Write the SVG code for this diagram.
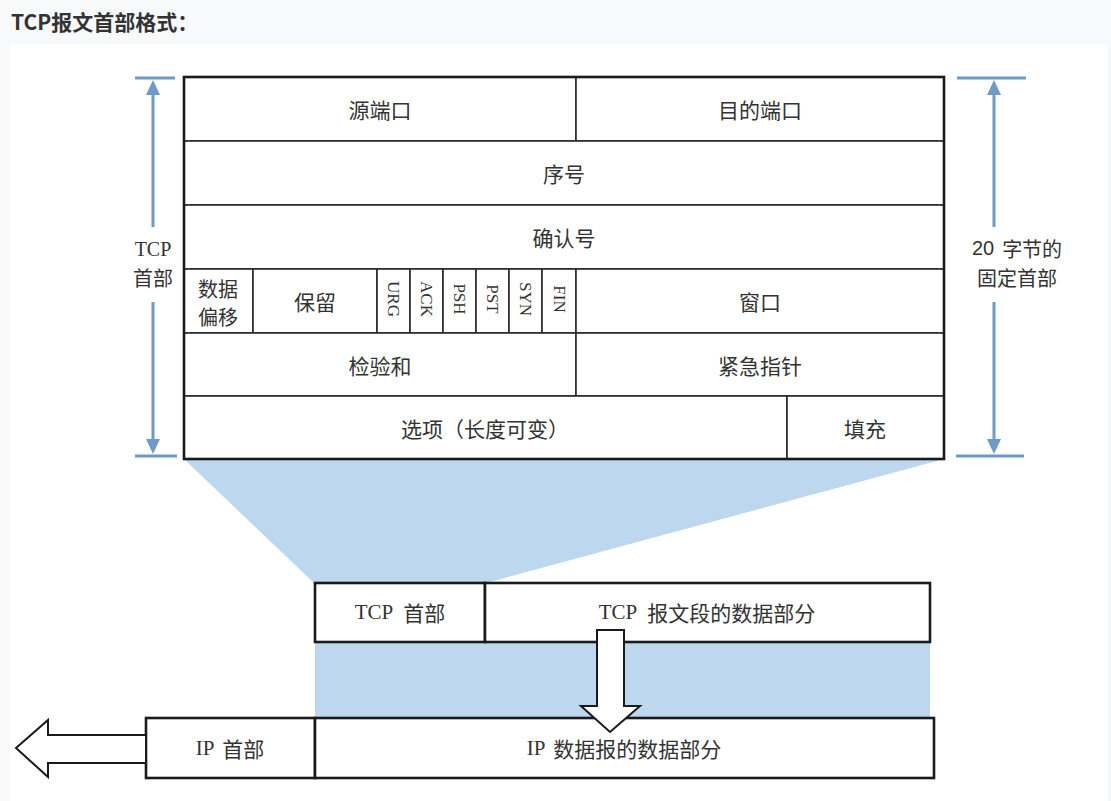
<svg xmlns="http://www.w3.org/2000/svg" width="1111" height="801" viewBox="0 0 1111 801">
<style>
.cell{fill:#fff;stroke:#2a2a2a;stroke-width:1.6}
.outer{fill:none;stroke:#1a1a1a;stroke-width:2.6}
.t{font-family:"Noto Sans CJK SC","Noto Sans",sans-serif;font-size:21px;fill:#333;text-anchor:middle;dominant-baseline:central}
.t2{font-family:"Noto Sans CJK SC","Noto Sans",sans-serif;font-size:20px;fill:#333;text-anchor:middle;dominant-baseline:central}
.s{font-family:"Liberation Serif","Noto Sans CJK SC",serif;font-size:20px;fill:#333;text-anchor:middle;dominant-baseline:central}
.f{font-family:"Liberation Serif",serif;font-size:17px;fill:#333;text-anchor:middle;dominant-baseline:central}
.dim{stroke:#6f9ac6;stroke-width:3;fill:none}
.head{fill:#6f9ac6}
.blk{fill:#fff;stroke:#1a1a1a;stroke-width:2}
.box{fill:#fff;stroke:#1a1a1a;stroke-width:2.6}
</style>
<rect width="1111" height="801" fill="#f8f9fb"/>
<rect x="10" y="44" width="1097" height="757" fill="#fff"/>
<text x="11" y="30" font-family="'Noto Sans CJK SC','Liberation Sans',sans-serif" font-size="21" font-weight="bold" fill="#333">TCP报文首部格式：</text>

<!-- projection shading -->
<g id="shading">
<polygon points="184,459 944,459 486,583 314,583" fill="#bdd7ee"/>
<rect x="315" y="642" width="615" height="76" fill="#bdd7ee"/>
</g>

<!-- TCP header table -->
<g id="header-table">
<g id="row1">
<rect class="cell" x="184" y="77" width="392" height="64"/>
<text class="t" x="380" y="109">源端口</text>
<rect class="cell" x="576" y="77" width="368" height="64"/>
<text class="t" x="760" y="109">目的端口</text>
</g>
<g id="row2">
<rect class="cell" x="184" y="141" width="760" height="64"/>
<text class="t" x="564" y="173">序号</text>
</g>
<g id="row3">
<rect class="cell" x="184" y="205" width="760" height="64"/>
<text class="t" x="564" y="237">确认号</text>
</g>
<g id="row4">
<rect class="cell" x="184" y="269" width="69" height="64"/>
<text class="t2" x="218" y="288">数据</text>
<text class="t2" x="218" y="316">偏移</text>
<rect class="cell" x="253" y="269" width="124" height="64"/>
<text class="t" x="315" y="301">保留</text>
<rect class="cell" x="377" y="269" width="33" height="64"/>
<text class="f" transform="translate(393.5,299) rotate(90)">URG</text>
<rect class="cell" x="410" y="269" width="33" height="64"/>
<text class="f" transform="translate(426.5,299) rotate(90)">ACK</text>
<rect class="cell" x="443" y="269" width="33" height="64"/>
<text class="f" transform="translate(459.5,299) rotate(90)">PSH</text>
<rect class="cell" x="476" y="269" width="33" height="64"/>
<text class="f" transform="translate(492.5,299) rotate(90)">PST</text>
<rect class="cell" x="509" y="269" width="33" height="64"/>
<text class="f" transform="translate(525.5,299) rotate(90)">SYN</text>
<rect class="cell" x="542" y="269" width="34" height="64"/>
<text class="f" transform="translate(559,299) rotate(90)">FIN</text>
<rect class="cell" x="576" y="269" width="368" height="64"/>
<text class="t" x="760" y="301">窗口</text>
</g>
<g id="row5">
<rect class="cell" x="184" y="333" width="392" height="63"/>
<text class="t" x="380" y="365">检验和</text>
<rect class="cell" x="576" y="333" width="368" height="63"/>
<text class="t" x="760" y="365">紧急指针</text>
</g>
<g id="row6">
<rect class="cell" x="184" y="396" width="603" height="63"/>
<text class="t" x="485" y="428">选项（长度可变）</text>
<rect class="cell" x="787" y="396" width="157" height="63"/>
<text class="t" x="865" y="428">填充</text>
</g>
<rect class="outer" x="184" y="77" width="760" height="382"/>
</g>

<!-- dimension markers -->
<g id="connectors">
<g id="dim-left">
<line class="dim" x1="135" y1="78" x2="175" y2="78"/>
<polygon class="head" points="153,80 146,95 160,95"/>
<line class="dim" x1="153" y1="92" x2="153" y2="227"/>
<line class="dim" x1="153" y1="302" x2="153" y2="442"/>
<polygon class="head" points="153,454 146,439 160,439"/>
<line class="dim" x1="135" y1="456" x2="177" y2="456"/>
</g>
<g id="dim-right">
<line class="dim" x1="957" y1="78" x2="1026" y2="78"/>
<polygon class="head" points="994,80 987,95 1001,95"/>
<line class="dim" x1="994" y1="92" x2="994" y2="227"/>
<line class="dim" x1="994" y1="302" x2="994" y2="442"/>
<polygon class="head" points="994,454 987,439 1001,439"/>
<line class="dim" x1="956" y1="456" x2="1024" y2="456"/>
</g>
</g>

<g id="label-left">
<text class="s" x="153" y="249">TCP</text>
<text class="t2" x="153" y="277">首部</text>
</g>
<g id="label-right">
<text class="t2" x="1017" y="248"><tspan font-family="Liberation Sans,sans-serif">20</tspan><tspan dx="8">字节的</tspan></text>
<text class="t2" x="1017" y="277">固定首部</text>
</g>

<!-- TCP segment -->
<g id="tcp-segment">
<rect class="box" x="315" y="583" width="170" height="59"/>
<text class="t" x="400" y="612"><tspan font-family="Liberation Serif,serif">TCP</tspan><tspan dx="10">首部</tspan></text>
<rect class="box" x="485" y="583" width="445" height="59"/>
<text class="t" x="707" y="612"><tspan font-family="Liberation Serif,serif">TCP</tspan><tspan dx="10">报文段的数据部分</tspan></text>
</g>

<!-- IP datagram -->
<g id="ip-datagram">
<rect class="box" x="146" y="718" width="169" height="60"/>
<text class="t" x="230" y="748"><tspan font-family="Liberation Serif,serif">IP</tspan><tspan dx="8">首部</tspan></text>
<rect class="box" x="315" y="718" width="619" height="60"/>
<text class="t" x="624" y="748"><tspan font-family="Liberation Serif,serif">IP</tspan><tspan dx="8">数据报的数据部分</tspan></text>
</g>

<!-- block arrows -->
<g id="arrow-down">
<polygon class="blk" points="597,630 624,630 624,706 640,706 610,732 581,706 597,706"/>
</g>
<g id="arrow-left">
<polygon class="blk" points="146,735 48,735 48,720 16,748 48,777 48,763 146,763"/>
</g>
</svg>
